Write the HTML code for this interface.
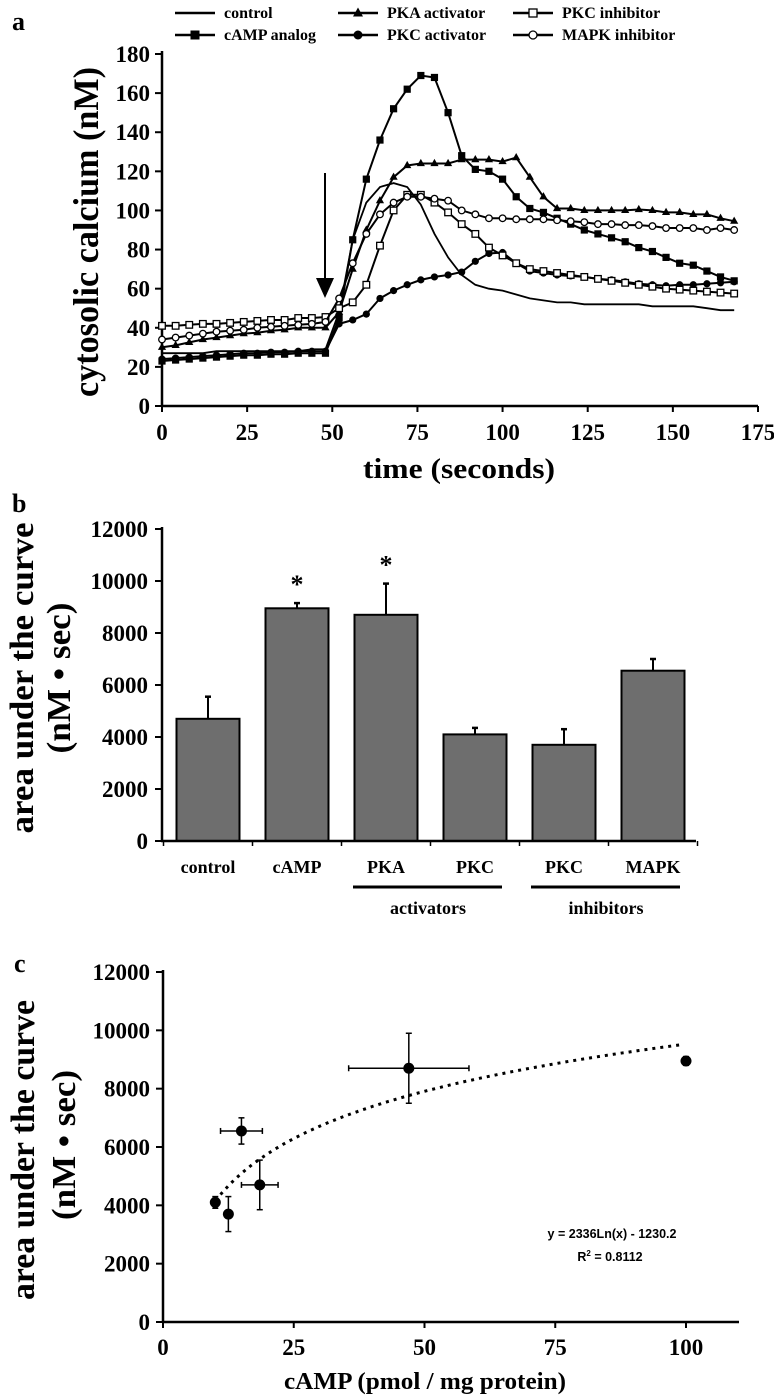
<!DOCTYPE html>
<html><head><meta charset="utf-8"><style>
html,body{margin:0;padding:0;background:#fff}
svg{display:block}
text{font-family:"Liberation Serif",serif;font-weight:bold;fill:#000}
</style></head><body>
<svg id="fig" width="774" height="1399" viewBox="0 0 774 1399" xmlns="http://www.w3.org/2000/svg"></svg>
<script>
// ---------- Panel a data ----------
const timeSec = [0,4,8,12,16,20,24,28,32,36,40,44,48,52,56,60,64,68,72,76,80,84,88,92,96,100,104,108,112,116,120,124,128,132,136,140,144,148,152,156,160,164,168];
const controlVals = [27,27,27,27,28,28,28,28,28,28,28,29,29,48,85,104,112,114,112,103,88,76,67,62,60,59,57,55,54,53,53,52,52,52,52,52,51,51,51,51,50,49,49];
const campVals = [23,23.5,24,24.5,25,25.5,26,26,26.5,26.5,27,27,27,45,85,116,136,152,162,169,168,150,128,121,120,116,107,101,99,96,93,90,88,86,84,81,79,76,73,72,69,66,64];
const pkaVals = [30,31,32.5,34,35,36,37,37.5,38.5,39,40,40,40,48,70,90,105,117,123,124,124,124,126,126,126,125,127,117,107,101,101,100,100,100,100,100.5,100,99,99,98,98,96,94.5];
const pkcActVals = [24,24.5,25,25.5,26,26.5,27,27,27.5,27.5,28,28,28,42,44,47,55,59,62,64.5,66,67,68.5,74,78,78.5,73,69,68,67,66.5,66,65,64.5,63.5,62.5,62,61.5,62,62,62.5,63,63.5];
const pkcInhVals = [41,41,41.5,42,42,42.5,43,43.5,44,44,45,45,45.5,50,53,62,82,100,108,108,104,99,93,88,81,77,73,70,69,68,67,66,65,64,63,62,61,60,59.5,59,58.5,58,57.5];
const mapkVals = [34,35,36,37,38,38.5,39,40,40.5,41,41.5,42,43,55,73,88,98,104,107,107,106,105,100,98,96,96,95.5,95.5,95.5,95,94.5,94,93,93,92.5,92.5,92,91,91,91,90,91,90];
const aXTicks = [0,25,50,75,100,125,150,175];
const aYTicks = [0,20,40,60,80,100,120,140,160,180];
// ---------- Panel b data ----------
const barCats = ["control","cAMP","PKA","PKC","PKC","MAPK"];
const barVals = [4700,8950,8700,4100,3700,6550];
const barErrs = [850,200,1200,250,600,450];
const bYTicks = [0,2000,4000,6000,8000,10000,12000];
// ---------- Panel c data ----------
const cX = [10,12.5,15,18.5,47,100];
const cY = [4100,3700,6550,4700,8700,8950];
const cXErr = [0,0,4,3.5,11.5,0];
const cYErr = [200,600,450,850,1200,150];
const cXTicks = [0,25,50,75,100];
const cYTicks = [0,2000,4000,6000,8000,10000,12000];
const fitA = 2336, fitB = -1230.2;

const NS="http://www.w3.org/2000/svg";
const svg=document.getElementById('fig');
function mk(tag,attrs,parent){const e=document.createElementNS(NS,tag);for(const k in attrs)e.setAttribute(k,attrs[k]);(parent||svg).appendChild(e);return e;}
function txt(s,attrs,parent){const e=mk('text',attrs,parent);e.textContent=s;return e;}

// ===== Panel a =====
const ax=v=>162+v*(596/175), ay=v=>406-v*(352/180);
const ga=mk('g',{});


txt('a',{x:12,y:30,'font-size':26});
// legend
const legend=mk('g',{},ga);


const legItems=[["control","none",175,13],["cAMP analog","sq",175,35],["PKA activator","tri",338,13],["PKC activator","dot",338,35],["PKC inhibitor","osq",513,13],["MAPK inhibitor","odot",513,35]];
function marker(kind,x,y,parent,s){
  s=s||4;
  if(kind==="sq")return mk('rect',{x:x-s,y:y-s,width:2*s,height:2*s,fill:'#000'},parent);
  if(kind==="osq")return mk('rect',{x:x-s+0.5,y:y-s+0.5,width:2*s-1,height:2*s-1,fill:'#fff',stroke:'#000','stroke-width':1.3},parent);
  if(kind==="tri")return mk('polygon',{points:`${x},${y-s-1} ${x-s-0.5},${y+s-1} ${x+s+0.5},${y+s-1}`,fill:'#000'},parent);
  if(kind==="dot")return mk('circle',{cx:x,cy:y,r:s,fill:'#000'},parent);
  if(kind==="odot")return mk('circle',{cx:x,cy:y,r:s-0.5,fill:'#fff',stroke:'#000','stroke-width':1.3},parent);
}
legItems.forEach(it=>{
  const g=mk('g',{},legend);
  
  
  mk('line',{x1:it[2],y1:it[3],x2:it[2]+40,y2:it[3],stroke:'#000','stroke-width':2.5},g);
  if(it[1]!=="none")marker(it[1],it[2]+20,it[3],g,4.5);
  txt(it[0],{x:it[2]+49,y:it[3]+5,'font-size':16},g);
});
// axes
const axA=mk('g',{},ga);


mk('line',{x1:162,y1:ay(180)-3,x2:162,y2:407,stroke:'#000','stroke-width':2.5},axA);
mk('line',{x1:161,y1:406,x2:758,y2:406,stroke:'#000','stroke-width':2.5},axA);
aYTicks.forEach(v=>{mk('line',{x1:155,y1:ay(v),x2:162,y2:ay(v),stroke:'#000','stroke-width':2},axA);
  txt(v,{x:150,y:ay(v)+8,'font-size':23,'text-anchor':'end'},axA);});
aXTicks.forEach(v=>{mk('line',{x1:ax(v),y1:406,x2:ax(v),y2:412,stroke:'#000','stroke-width':2},axA);
  txt(v,{x:ax(v),y:440,'font-size':23,'text-anchor':'middle'},axA);});
const yta=txt('cytosolic calcium (nM)',{x:0,y:0,'font-size':36,textLength:330,lengthAdjust:'spacingAndGlyphs',transform:'translate(98,232) rotate(-90)','text-anchor':'middle'},ga);

const xta=txt('time (seconds)',{x:459,y:478,'font-size':28,'text-anchor':'middle',textLength:192,lengthAdjust:'spacingAndGlyphs'},ga);

// series
const series=[["control",controlVals,"none"],["camp-analog",campVals,"sq"],["pka-activator",pkaVals,"tri"],["pkc-activator",pkcActVals,"dot"],["pkc-inhibitor",pkcInhVals,"osq"],["mapk-inhibitor",mapkVals,"odot"]];
series.forEach(s=>{
  const g=mk('g',{},ga);
  
  
  const d=s[1].map((v,i)=>(i?'L':'M')+ax(timeSec[i]).toFixed(1)+','+ay(v).toFixed(1)).join(' ');
  mk('path',{d:d,fill:'none',stroke:'#000','stroke-width':s[2]==="none"?1.8:2},g);
  if(s[2]!=="none")s[1].forEach((v,i)=>marker(s[2],ax(timeSec[i]),ay(v),g,s[2]==="osq"||s[2]==="odot"?3.8:3.6));
});
// arrow
const arr=mk('g',{},ga);


mk('line',{x1:325,y1:173,x2:325,y2:285,stroke:'#000','stroke-width':2},arr);
mk('polygon',{points:'316,278 334,278 325,298',fill:'#000'},arr);

// ===== Panel b =====
const by=v=>841-v*(312/12000);
const bcx=i=>208+i*89;
const gb=mk('g',{});


txt('b',{x:12,y:512,'font-size':26});
barVals.forEach((v,i)=>{
  const r=mk('rect',{x:bcx(i)-31.5,y:by(v),width:63,height:841-by(v),fill:'#6e6e6e',stroke:'#000','stroke-width':2},gb);
  
  
  const e=mk('g',{},gb);
  
  
  mk('line',{x1:bcx(i),y1:by(v),x2:bcx(i),y2:by(v+barErrs[i]),stroke:'#000','stroke-width':2},e);
  mk('line',{x1:bcx(i)-3,y1:by(v+barErrs[i]),x2:bcx(i)+3,y2:by(v+barErrs[i]),stroke:'#000','stroke-width':2.5},e);
  const l=txt(barCats[i],{x:bcx(i),y:873,'font-size':18,'text-anchor':'middle'},gb);
  
});
[1,2].forEach(i=>{const s=txt('*',{x:bcx(i),y:by(barVals[i]+barErrs[i])-10,'font-size':26,'text-anchor':'middle'},gb);
  });
mk('line',{x1:162,y1:by(12000)-2,x2:162,y2:842,stroke:'#000','stroke-width':2.5},gb);
mk('line',{x1:161,y1:841,x2:696,y2:841,stroke:'#000','stroke-width':2.5},gb);
bYTicks.forEach(v=>{mk('line',{x1:155,y1:by(v),x2:162,y2:by(v),stroke:'#000','stroke-width':2},gb);
  txt(v,{x:148,y:by(v)+8,'font-size':23,'text-anchor':'end'},gb);});
for(let i=0;i<=6;i++)mk('line',{x1:163.5+i*89,y1:841,x2:163.5+i*89,y2:846,stroke:'#000','stroke-width':1.5},gb);
mk('line',{x1:353,y1:887,x2:502,y2:887,stroke:'#000','stroke-width':3},gb);
mk('line',{x1:531,y1:887,x2:680,y2:887,stroke:'#000','stroke-width':3},gb);
txt('activators',{x:428,y:914,'font-size':18,'text-anchor':'middle'},gb);
txt('inhibitors',{x:606,y:914,'font-size':18,'text-anchor':'middle'},gb);
txt('area under the curve',{x:0,y:0,'font-size':34,textLength:311,lengthAdjust:'spacingAndGlyphs','text-anchor':'middle',transform:'translate(33,678) rotate(-90)'},gb);
txt('(nM • sec)',{x:0,y:0,'font-size':34,textLength:151,lengthAdjust:'spacingAndGlyphs','text-anchor':'middle',transform:'translate(70,678) rotate(-90)'},gb);

// ===== Panel c =====
const cxs=v=>163+v*5.23, cys=v=>1322-v*(350/12000);
const gc=mk('g',{});


txt('c',{x:14,y:972,'font-size':26});
mk('line',{x1:163,y1:cys(12000)-2,x2:163,y2:1323,stroke:'#000','stroke-width':2.5},gc);
mk('line',{x1:162,y1:1322,x2:739,y2:1322,stroke:'#000','stroke-width':2.5},gc);
cYTicks.forEach(v=>{mk('line',{x1:156,y1:cys(v),x2:163,y2:cys(v),stroke:'#000','stroke-width':2},gc);
  txt(v,{x:150,y:cys(v)+8,'font-size':23,'text-anchor':'end'},gc);});
cXTicks.forEach(v=>{mk('line',{x1:cxs(v),y1:1322,x2:cxs(v),y2:1328,stroke:'#000','stroke-width':2},gc);
  txt(v,{x:cxs(v),y:1355,'font-size':23,'text-anchor':'middle'},gc);});
// fit line
let fd='';for(let x=11;x<=99;x+=1){fd+=(x===11?'M':'L')+cxs(x).toFixed(1)+','+cys(fitA*Math.log(x)+fitB).toFixed(1)+' ';}
const fit=mk('path',{d:fd,fill:'none',stroke:'#000','stroke-width':3,'stroke-dasharray':'3,5'},gc);


cX.forEach((x,i)=>{
  const g=mk('g',{},gc);
  
  
  const px=cxs(x),py=cys(cY[i]);
  if(cYErr[i]){const y1=cys(cY[i]-cYErr[i]),y2=cys(cY[i]+cYErr[i]);
    mk('line',{x1:px,y1:y1,x2:px,y2:y2,stroke:'#000','stroke-width':1.5},g);
    mk('line',{x1:px-3,y1:y1,x2:px+3,y2:y1,stroke:'#000','stroke-width':1.5},g);
    mk('line',{x1:px-3,y1:y2,x2:px+3,y2:y2,stroke:'#000','stroke-width':1.5},g);}
  if(cXErr[i]){const x1=cxs(x-cXErr[i]),x2=cxs(x+cXErr[i]);
    mk('line',{x1:x1,y1:py,x2:x2,y2:py,stroke:'#000','stroke-width':1.5},g);
    mk('line',{x1:x1,y1:py-3,x2:x1,y2:py+3,stroke:'#000','stroke-width':1.5},g);
    mk('line',{x1:x2,y1:py-3,x2:x2,y2:py+3,stroke:'#000','stroke-width':1.5},g);}
  mk('circle',{cx:px,cy:py,r:5.5,fill:'#000'},g);
});
const eq=txt('y = 2336Ln(x) - 1230.2',{x:612,y:1238,'font-size':12.5,'text-anchor':'middle',style:'font-family:"Liberation Sans",sans-serif'},gc);

const r2=txt('',{x:610,y:1261,'font-size':12.5,'text-anchor':'middle',style:'font-family:"Liberation Sans",sans-serif'},gc);

r2.innerHTML='R<tspan dy="-5" font-size="8">2</tspan><tspan dy="5"> = 0.8112</tspan>';
txt('cAMP (pmol / mg protein)',{x:425,y:1389,'font-size':24,'text-anchor':'middle',textLength:282,lengthAdjust:'spacingAndGlyphs'},gc);
txt('area under the curve',{x:0,y:0,'font-size':34,textLength:300,lengthAdjust:'spacingAndGlyphs','text-anchor':'middle',transform:'translate(34,1150) rotate(-90)'},gc);
txt('(nM • sec)',{x:0,y:0,'font-size':34,textLength:150,lengthAdjust:'spacingAndGlyphs','text-anchor':'middle',transform:'translate(75,1145) rotate(-90)'},gc);
</script>
</body></html>
